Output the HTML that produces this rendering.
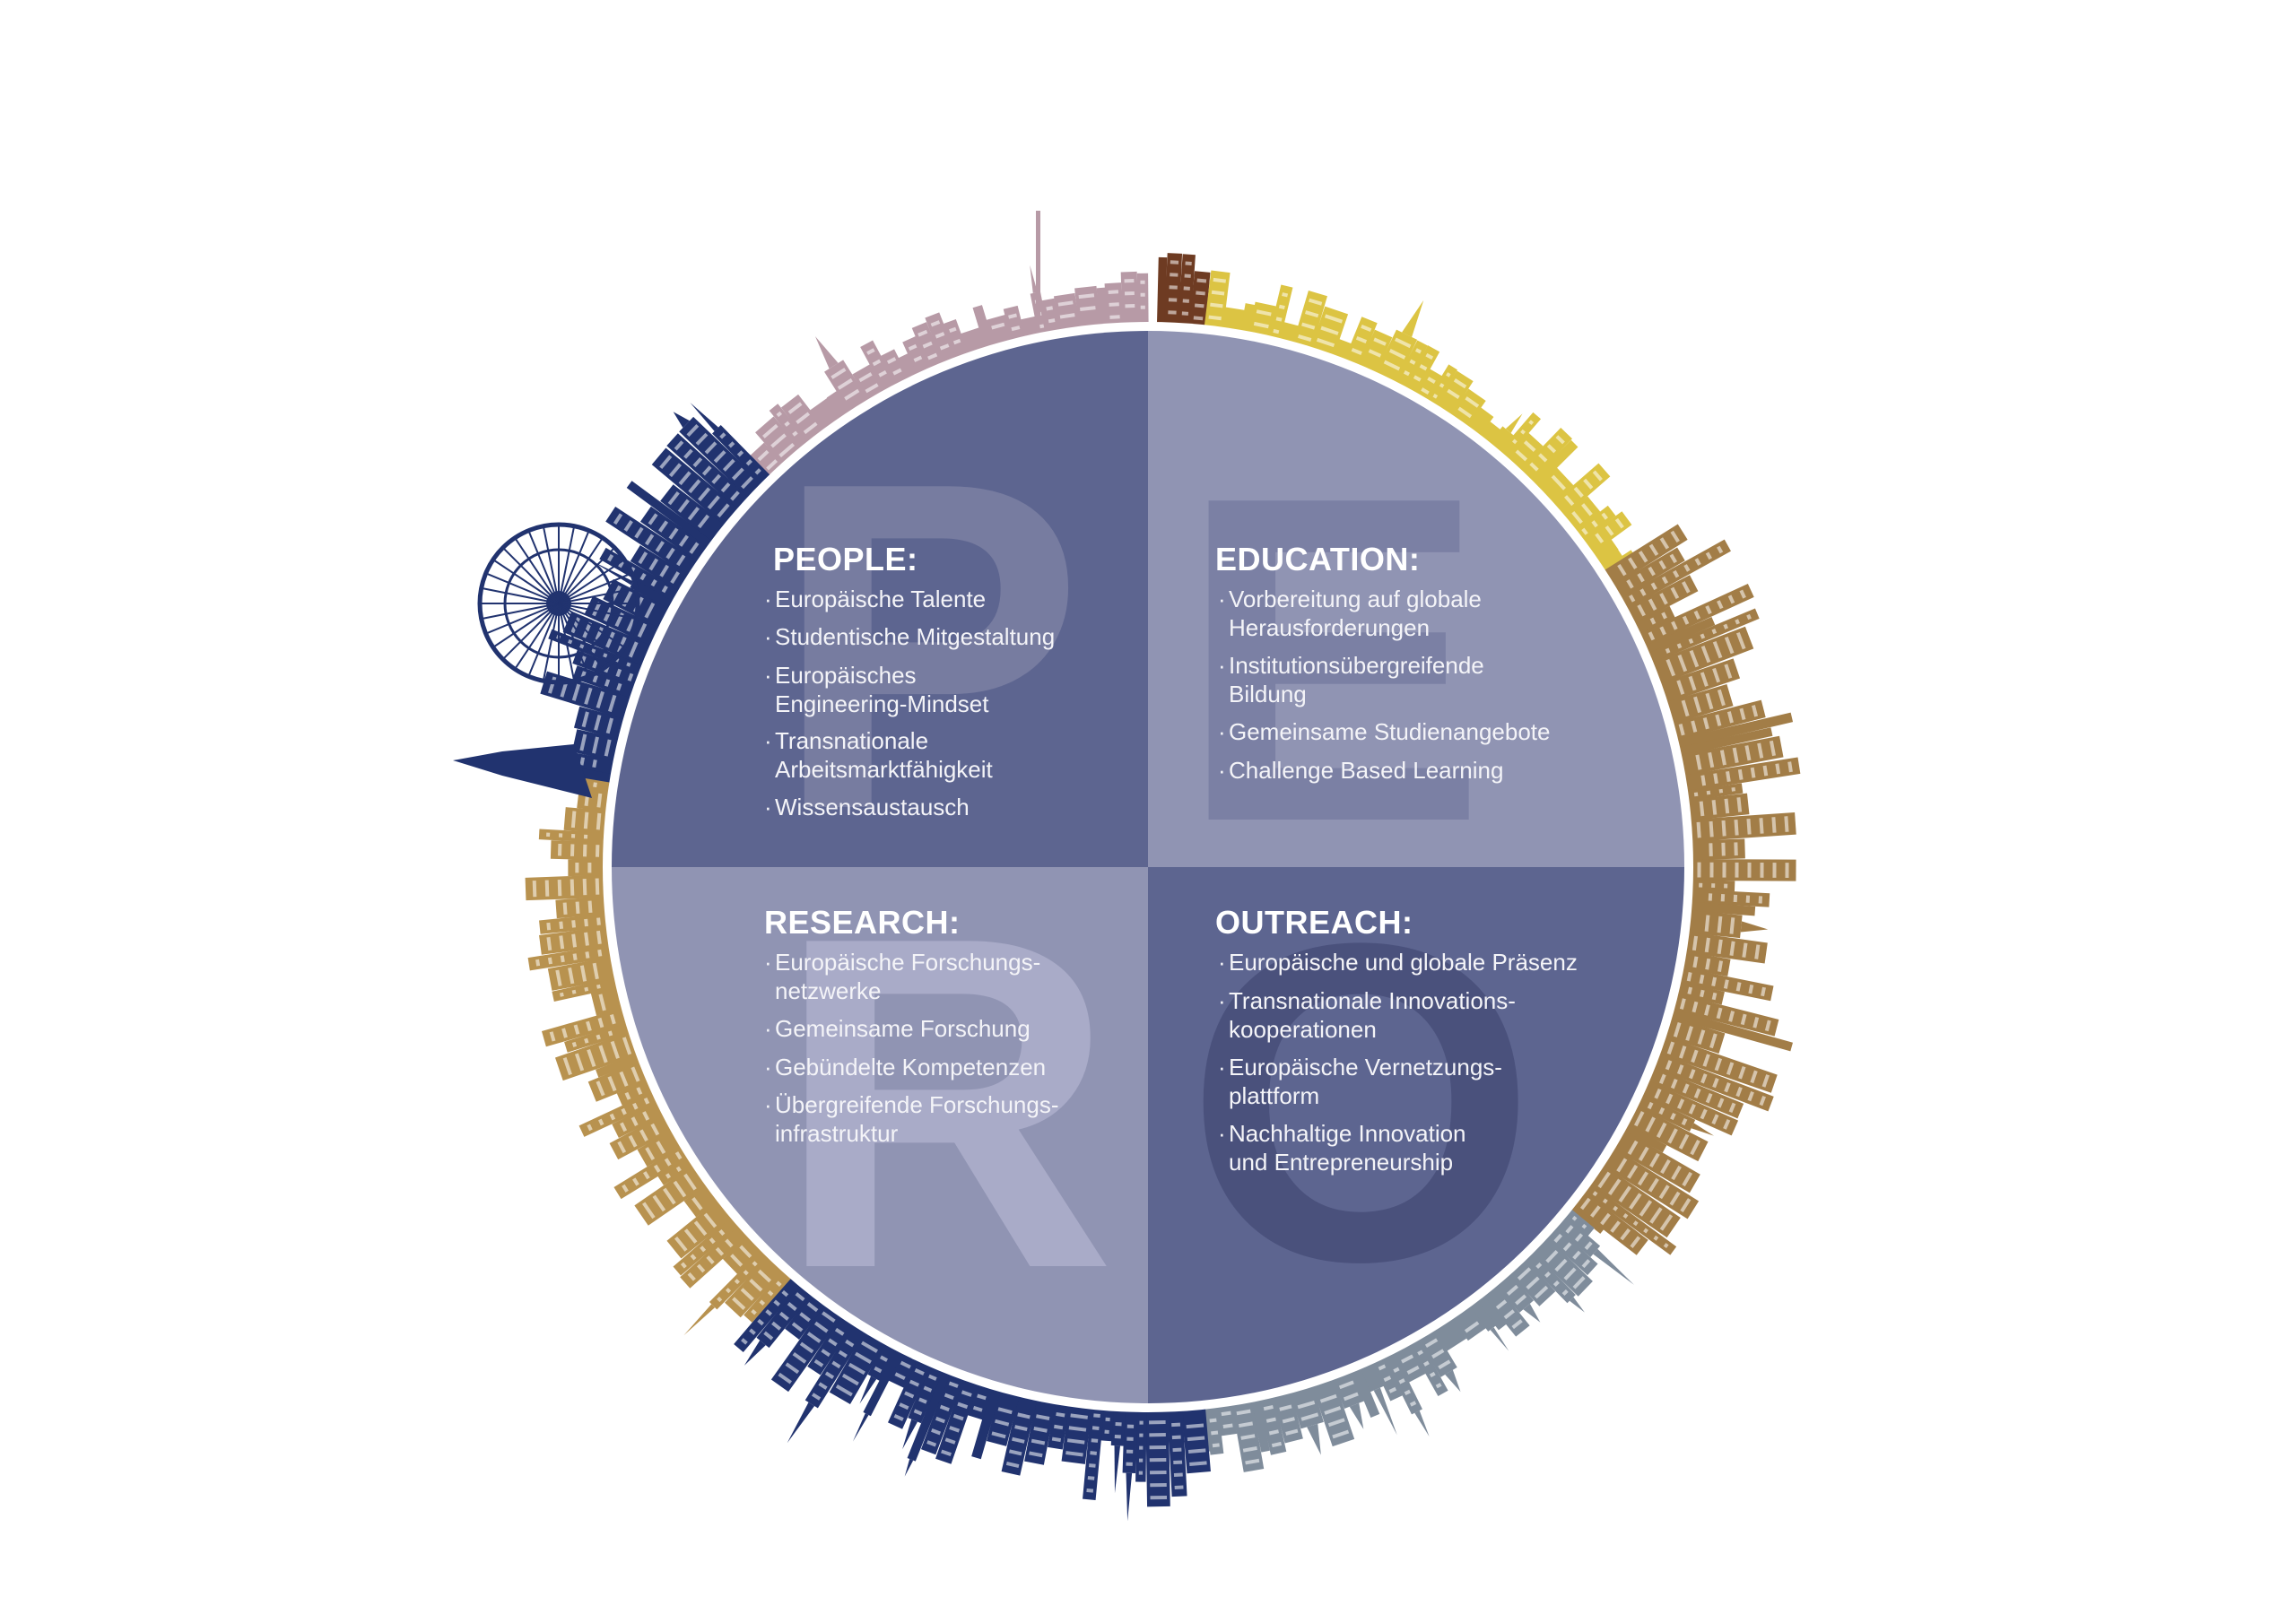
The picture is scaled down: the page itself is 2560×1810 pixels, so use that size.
<!DOCTYPE html>
<html><head><meta charset="utf-8">
<style>
html,body{margin:0;padding:0;background:#fff;}
body{width:2560px;height:1810px;position:relative;overflow:hidden;font-family:"Liberation Sans",sans-serif;}
svg{position:absolute;left:0;top:0;}
.t{position:absolute;color:#fff;}
.h{font-weight:bold;font-size:36px;letter-spacing:0.5px;}
.li{position:absolute;font-size:26px;line-height:32px;color:#f4f4f8;}
.li:before{content:"·";position:absolute;left:-12px;}
</style></head><body>
<svg id="s" width="2560" height="1810" viewBox="0 0 2560 1810">
<defs><clipPath id="c"><circle cx="1280" cy="967" r="598"/></clipPath>
<clipPath id="q1"><rect x="600" y="300" width="680" height="667"/></clipPath>
<clipPath id="q2"><rect x="1280" y="300" width="700" height="667"/></clipPath>
<clipPath id="q3"><rect x="600" y="967" width="680" height="700"/></clipPath>
<clipPath id="q4"><rect x="1280" y="967" width="700" height="700"/></clipPath>
</defs>
<g id="sky"></g>
<circle cx="1280" cy="967" r="608" fill="#fff"/>
<g clip-path="url(#c)">
<rect x="600" y="300" width="680" height="667" fill="#5d6590"/>
<rect x="1280" y="300" width="700" height="667" fill="#9094b3"/>
<rect x="600" y="967" width="680" height="700" fill="#9094b3"/>
<rect x="1280" y="967" width="700" height="700" fill="#5d6590"/>
<g font-family="Liberation Sans, sans-serif" font-weight="bold">
<text x="862" y="900" font-size="520" fill="#777ca0" clip-path="url(#q1)">P</text>
<text x="1313" y="914" font-size="517" fill="#7b80a4" clip-path="url(#q2)">E</text>
<text x="864" y="1412" font-size="527" fill="#a9abc8" clip-path="url(#q3)">R</text>
<text x="1321" y="1404" font-size="505" fill="#4a517c" clip-path="url(#q4)">O</text>
</g>
</g>
</svg>

<div class="t h" style="left:862px;top:603px;">PEOPLE:</div>
<div class="li" style="left:864px;top:652px;">Europäische Talente</div>
<div class="li" style="left:864px;top:694px;">Studentische Mitgestaltung</div>
<div class="li" style="left:864px;top:737px;">Europäisches<br>Engineering-Mindset</div>
<div class="li" style="left:864px;top:810px;">Transnationale<br>Arbeitsmarktfähigkeit</div>
<div class="li" style="left:864px;top:884px;">Wissensaustausch</div>

<div class="t h" style="left:1355px;top:603px;">EDUCATION:</div>
<div class="li" style="left:1370px;top:652px;">Vorbereitung auf globale<br>Herausforderungen</div>
<div class="li" style="left:1370px;top:726px;">Institutionsübergreifende<br>Bildung</div>
<div class="li" style="left:1370px;top:800px;">Gemeinsame Studienangebote</div>
<div class="li" style="left:1370px;top:843px;">Challenge Based Learning</div>

<div class="t h" style="left:852px;top:1008px;">RESEARCH:</div>
<div class="li" style="left:864px;top:1057px;">Europäische Forschungs-<br>netzwerke</div>
<div class="li" style="left:864px;top:1131px;">Gemeinsame Forschung</div>
<div class="li" style="left:864px;top:1174px;">Gebündelte Kompetenzen</div>
<div class="li" style="left:864px;top:1216px;">Übergreifende Forschungs-<br>infrastruktur</div>

<div class="t h" style="left:1355px;top:1008px;">OUTREACH:</div>
<div class="li" style="left:1370px;top:1057px;">Europäische und globale Präsenz</div>
<div class="li" style="left:1370px;top:1100px;">Transnationale Innovations-<br>kooperationen</div>
<div class="li" style="left:1370px;top:1174px;">Europäische Vernetzungs-<br>plattform</div>
<div class="li" style="left:1370px;top:1248px;">Nachhaltige Innovation<br>und Entrepreneurship</div>

<script>
(function(){
var cx=1280,cy=967,R=606,g=document.getElementById('sky'),ns='http://www.w3.org/2000/svg';
var seed=12345;function rnd(){seed=(seed*1103515245+12345)%2147483648;return seed/2147483648;}
var segs=[[-134,-90,'#b79aa6',20,60],[-89,-84,'#6e3b22',55,85],[-84,-33,'#dcc443',20,70],[-33,39,'#a27d47',40,140],[39,84,'#7f8c9b',25,85],[84,131,'#21336f',35,110],[131,189,'#b8924f',30,95],[189,226,'#21336f',45,115]];
function add(tag,attrs){var e=document.createElementNS(ns,tag);for(var k in attrs)e.setAttribute(k,attrs[k]);g.appendChild(e);return e;}
segs.forEach(function(s){
 var a=s[0];
 while(a<s[1]){
  var w=8+rnd()*18;var da=w/R*180/Math.PI;if(a+da>s[1]){w=(s[1]-a)*Math.PI/180*R;da=s[1]-a;}
  var h=s[3]+rnd()*(s[4]-s[3]);var mid=a+da/2;
  var tr='rotate('+(mid+90)+' '+cx+' '+cy+')';
  add('rect',{x:cx-w/2-0.6,y:cy-R-h,width:w+1.2,height:h+2,fill:s[2],transform:tr});
  if(rnd()<0.18){var sh=h+20+rnd()*40;add('polygon',{points:(cx-w/4)+','+(cy-R-h)+' '+cx+','+(cy-R-sh)+' '+(cx+w/4)+','+(cy-R-h),fill:s[2],transform:tr});}
  if(w>10&&h>30){for(var yy=cy-R-h+8;yy<cy-R-10;yy+=14){add('rect',{x:cx-w/2+3,y:yy,width:Math.max(2,w-6),height:4,fill:'#fff',opacity:0.55,transform:tr});}}
  a+=da;
 }
});
add('rect',{x:1155,y:235,width:5,height:120,fill:'#b79aa6'});
add('circle',{cx:623,cy:673,r:88,fill:'none',stroke:'#21336f','stroke-width':5});
add('circle',{cx:623,cy:673,r:60,fill:'none',stroke:'#21336f','stroke-width':3});
add('circle',{cx:623,cy:673,r:14,fill:'#21336f'});
for(var i=0;i<32;i++){var t=i*Math.PI/16;add('line',{x1:623,y1:673,x2:623+88*Math.cos(t),y2:673+88*Math.sin(t),stroke:'#21336f','stroke-width':2});}
add('polygon',{points:'505,848 560,838 640,830 660,890 560,865',fill:'#21336f'});
})();
</script>
</body></html>
